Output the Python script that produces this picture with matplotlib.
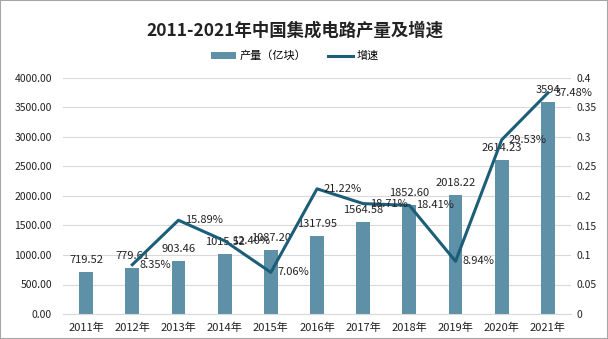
import matplotlib.pyplot as plt
from matplotlib.patches import Rectangle

plt.rcParams['font.family'] = ['Noto Sans CJK SC', 'DejaVu Sans']

years = ['2011年', '2012年', '2013年', '2014年', '2015年', '2016年',
         '2017年', '2018年', '2019年', '2020年', '2021年']
output = [719.52, 779.61, 903.46, 1015.52, 1087.20, 1317.95,
          1564.58, 1852.60, 2018.22, 2614.23, 3594]
output_labels = ['719.52', '779.61', '903.46', '1015.52', '1087.20', '1317.95',
                 '1564.58', '1852.60', '2018.22', '2614.23', '3594']
growth = [0.0835, 0.1589, 0.1240, 0.0706, 0.2122, 0.1871, 0.1841, 0.0894, 0.2953, 0.3748]
growth_labels = ['8.35%', '15.89%', '12.40%', '7.06%', '21.22%', '18.71%',
                 '18.41%', '8.94%', '29.53%', '37.48%']

bar_color = '#5E90A8'
line_color = '#1C5E78'
text_color = '#222222'

fig = plt.figure(figsize=(6.08, 3.39), dpi=100)
ax = fig.add_axes([63 / 608, 25 / 339, 508 / 608, 236 / 339])
x = list(range(len(years)))

ax.bar(x, output, width=0.3, color=bar_color, zorder=2, label='产量（亿块）')
ax.set_ylim(0, 4000)
ax.set_xlim(-0.5, len(years) - 0.5)
ax.set_yticks([i * 500 for i in range(9)])
ax.set_yticklabels([f'{i * 500:.2f}' for i in range(9)])
ax.set_xticks(x)
ax.set_xticklabels(years)
ax.grid(axis='y', color='#D9D9D9', linewidth=0.8, zorder=0)
for s in ax.spines.values():
    s.set_visible(False)
ax.spines['bottom'].set_visible(True)
ax.spines['bottom'].set_color('#D9D9D9')
ax.tick_params(axis='both', length=0, labelsize=7.5, colors=text_color)
ax.tick_params(axis='x', pad=6, labelsize=8)
ax.tick_params(axis='y', pad=8)

for xi, v, lab in zip(x, output, output_labels):
    ax.annotate(lab, (xi, v), xytext=(0, 5), textcoords='offset points',
                ha='center', va='bottom', fontsize=8, color=text_color, zorder=4)

ax2 = ax.twinx()
ax2.plot(x[1:], growth, color=line_color, linewidth=2.2, zorder=3, label='增速')
ax2.set_ylim(0, 0.4)
ax2.set_yticks([0, 0.05, 0.1, 0.15, 0.2, 0.25, 0.3, 0.35, 0.4])
ax2.set_yticklabels(['0', '0.05', '0.1', '0.15', '0.2', '0.25', '0.3', '0.35', '0.4'])
ax2.tick_params(axis='y', length=0, labelsize=7.5, colors=text_color, pad=4)
for s in ax2.spines.values():
    s.set_visible(False)

for xi, g, lab in zip(x[1:], growth, growth_labels):
    ax2.annotate(lab, (xi, g), xytext=(5, 0), textcoords='offset points',
                 ha='left', va='center', fontsize=8, color=text_color, zorder=4)

fig.text(0.485, 0.91, '2011-2021年中国集成电路产量及增速', ha='center', va='center',
         fontsize=12.5, fontweight='bold', color=text_color)

h1, l1 = ax.get_legend_handles_labels()
h2, l2 = ax2.get_legend_handles_labels()
fig.legend(h1 + h2, l1 + l2, loc='center', bbox_to_anchor=(0.485, 0.835), ncol=2,
           frameon=False, fontsize=8, handlelength=2.2, handleheight=0.6,
           columnspacing=2.0, handletextpad=0.3)

fig.patches.append(Rectangle((0, 0), 1, 1, transform=fig.transFigure, fill=False,
                             edgecolor='#A6A6A6', linewidth=1.5))

fig.savefig('out.png', dpi=100)
